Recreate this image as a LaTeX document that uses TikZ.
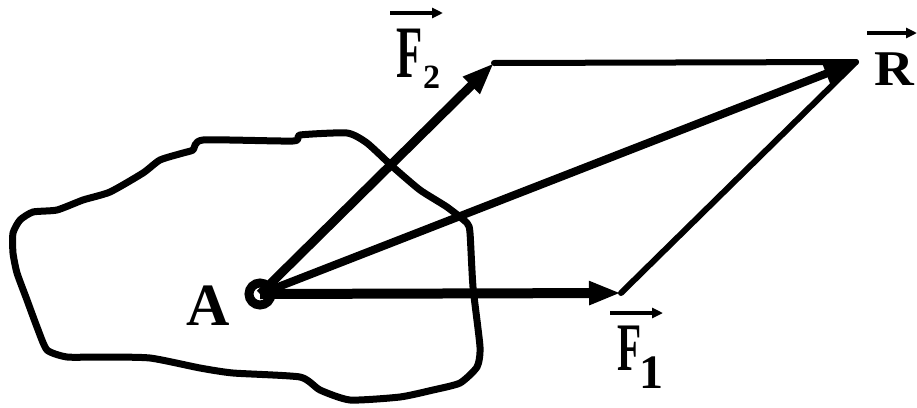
\documentclass[tikz,border=0pt]{standalone}
\usepackage{fontspec}
\setmainfont{Liberation Serif}
\usetikzlibrary{arrows.meta}
\tikzset{
  lbl/.style={inner sep=0pt, outer sep=0pt, font=\bfseries},
  force/.style={line width=9pt, -{Triangle[length=32pt,width=22pt]}},
  side/.style={line width=6pt, line cap=round, line join=round},
  body/.style={line width=7pt, line join=round},
  over/.style={line width=4pt, -{Triangle[length=11pt,width=10pt]}}
}
\begin{document}
\begin{tikzpicture}[x=1pt,y=-1pt]
\useasboundingbox (0,0) rectangle (917,407);
% body outline
\draw[body] plot[smooth cycle, tension=0.35] coordinates {
 (203,140) (293,141) (300,135) (347,133) (367,143) (393,167) (420,190)
 (447,207) (467,223) (470,233) (473,287) (480,347) (477,367) (460,383)
 (433,390) (400,397) (350,400) (320,390) (300,377) (233,373) (200,368)
 (150,358) (100,357) (67,357) (47,350) (37,327) (27,300) (17,273)
 (13,253) (13,233) (20,220) (33,212) (57,210) (83,200) (110,192)
 (143,173) (160,160) (183,153) (193,150)};
% points
\coordinate (A) at (260,294);
\coordinate (F1e) at (621,293);
\coordinate (F2e) at (494,63);
\coordinate (Re) at (856,62);
% parallelogram sides
\draw[side] (F2e) -- (Re);
\draw[side] (F1e) -- (Re);
% forces
\draw[force,line width=10pt] (A) -- (F1e);
\draw[force] (A) -- (F2e);
\draw[force,line width=8pt] (A) -- (Re);
% point A
\draw[line width=9pt] (A) circle (11pt);
% labels
\node[lbl, anchor=base west, font=\bfseries\fontsize{60}{60}\selectfont] (lA) at (186,325) {A};
\node[lbl, anchor=base west, font=\bfseries\fontsize{74}{74}\selectfont] (lF2) at (396,77) {\scalebox{0.58}[1]{F}};
\node[lbl, anchor=base west, font=\bfseries\fontsize{34}{34}\selectfont] (lF2s) at (423,88) {2};
\node[lbl, anchor=base west, font=\bfseries\fontsize{68}{68}\selectfont] (lF1) at (617,370) {\scalebox{0.58}[1]{F}};
\node[lbl, anchor=base west, font=\bfseries\fontsize{48}{48}\selectfont] (lF1s) at (639,388) {1};
\node[lbl, anchor=base west, font=\bfseries\fontsize{50}{50}\selectfont] (lR) at (874,85) {\scalebox{1.1}[1]{R}};
% vector bars
\coordinate (a1) at (390,13); \coordinate (b1) at (443,13);
\coordinate (a2) at (610,313); \coordinate (b2) at (663,313);
\coordinate (a3) at (867,33); \coordinate (b3) at (917,33);
\draw[over] (a1) -- (b1);
\draw[over] (a2) -- (b2);
\draw[over] (a3) -- (b3);
\end{tikzpicture}
\end{document}
